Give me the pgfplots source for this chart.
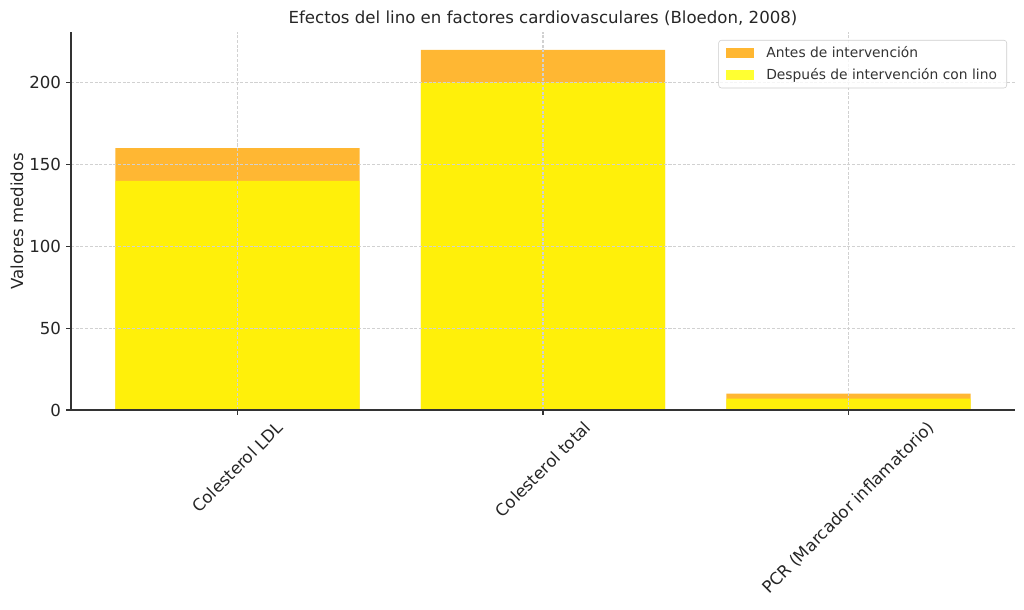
\documentclass[border=0pt]{standalone}
\usepackage{pgfplots}
\pgfplotsset{compat=1.18}
\usepackage{fontspec}
\setmainfont{DejaVu Sans}
\usepackage{graphicx}
\definecolor{mplorange}{RGB}{255,165,0}
\definecolor{mplyellow}{RGB}{255,255,0}
\begin{document}
\begin{tikzpicture}
\path[use as bounding box] (-0.71in,-2.00in) rectangle (9.53in,4.10in);
\begin{axis}[
  at={(0,0)}, anchor=south west,
  scale only axis, width=9.44in, height=3.78in,
  xmin=-0.545, xmax=2.545, ymin=0, ymax=231,
  axis x line*=bottom, axis y line*=left,
  axis line style={-, color=black!80, line width=0.8pt},
  xtick={0,1,2},
  xticklabels={\rotatebox{45}{Colesterol LDL},\rotatebox{45}{Colesterol total},\rotatebox{45}{PCR (Marcador inflamatorio)}},
  ytick={0,50,100,150,200},
  tick align=outside, major tick length=3.5pt,
  tick style={black!80, line width=0.8pt},
  tick label style={font=\fontsize{12}{14}\selectfont, text=black!85},
  xticklabel style={anchor=north, inner sep=0pt, yshift=-3.5pt},
  yticklabel style={anchor=east, inner sep=0pt, xshift=-3.5pt},
  /pgf/number format/assume math mode=true,
  grid=major,
  major grid style={dash pattern=on 2.2pt off 1.2pt, color=black!18, line width=0.8pt},
  axis on top,
  title={Efectos del lino en factores cardiovasculares (Bloedon, 2008)},
  title style={at={(rel axis cs:0.5,1)}, anchor=base, yshift=-0.2pt, inner sep=0pt, font=\fontsize{12}{14}\selectfont, text=black!85},
  ylabel={Valores medidos},
  every axis y label/.style={at={(rel axis cs:0,0.5)}, xshift=-0.54in, rotate=90, anchor=center, font=\fontsize{12}{14}\selectfont, text=black!85},
  legend style={at={(rel axis cs:1,1)}, anchor=north east, xshift=-0.08in, yshift=-0.08in,
    draw=black!20, rounded corners=2pt, fill=white, fill opacity=0.8, text opacity=1,
    font=\fontsize{10}{12}\selectfont, text=black!80, inner xsep=5pt, inner ysep=2.5pt,
    row sep=2.5pt},
  legend cell align=left,
  ybar, bar shift=0pt, bar width=0.8,
]
\addplot[draw=none, fill=mplorange, fill opacity=0.8,
  legend image code/.code={\fill[mplorange, fill opacity=0.8, sharp corners] (0in,-0.05in) rectangle (0.28in,0.05in); \path (0.38in,0);}]
  coordinates {(0,160) (1,220) (2,10)};
\addlegendentry{Antes de intervención}
\addplot[draw=none, fill=mplyellow, fill opacity=0.8,
  legend image code/.code={\fill[mplyellow, fill opacity=0.8, sharp corners] (0in,-0.05in) rectangle (0.28in,0.05in); \path (0.38in,0);}]
  coordinates {(0,140) (1,200) (2,7)};
\addlegendentry{Después de intervención con lino}
\end{axis}
\end{tikzpicture}
\end{document}
